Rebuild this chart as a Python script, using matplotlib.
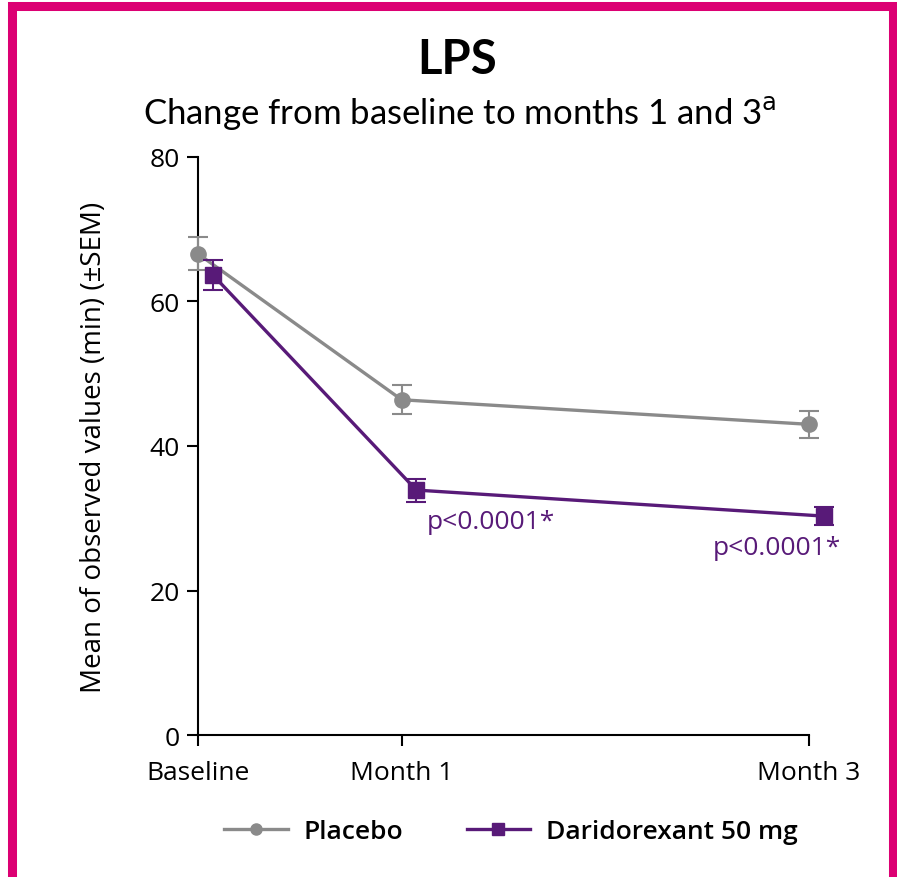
import numpy as np
import matplotlib
matplotlib.use("Agg")
import matplotlib.pyplot as plt
from matplotlib.patches import Rectangle

# LPS - mean observed values (min) with SEM
visits = ["Baseline", "Month 1", "Month 3"]
months = [0, 1, 3]

placebo = [66.6, 46.4, 43.0]
placebo_sem = [2.3, 2.0, 1.9]

dari = [63.7, 33.9, 30.3]
dari_sem = [2.1, 1.6, 1.3]

p_labels = ["p<0.0001*", "p<0.0001*"]

gray = "#8a8a8a"
purple = "#581a78"
magenta = "#dc0073"

fig = plt.figure(figsize=(8.97, 8.78), dpi=100)
ax = fig.add_axes([198/897, 1 - 736/878, 611/897, 578/878])

x_p = np.array(months, dtype=float)
x_d = x_p + 0.072

ax.errorbar(x_p, placebo, yerr=placebo_sem, color=gray, marker="o", markersize=11,
            linewidth=2.4, elinewidth=1.5, capsize=7, capthick=1.5, clip_on=False, zorder=3)
ax.errorbar(x_d, dari, yerr=dari_sem, color=purple, marker="s", markersize=12,
            linewidth=2.4, elinewidth=1.5, capsize=7, capthick=1.5, clip_on=False, zorder=4)

ax.text(x_d[1] + 0.05, dari[1] - 4.3, p_labels[0], color=purple, fontsize=19,
        family="Open Sans", va="center", ha="left")
ax.text(x_d[2] + 0.085, dari[2] - 4.3, p_labels[1], color=purple, fontsize=19,
        family="Open Sans", va="center", ha="right")

ax.set_xlim(0, 3)
ax.set_ylim(0, 80)
ax.set_xticks(months)
ax.set_xticklabels(visits)
ax.set_yticks([0, 20, 40, 60, 80])
for s in ["top", "right"]:
    ax.spines[s].set_visible(False)
for s in ["left", "bottom"]:
    ax.spines[s].set_linewidth(1.5)
ax.tick_params(length=8, width=1.5, labelsize=19, pad=5)
ax.tick_params(axis="x", pad=10)
for lab in ax.get_xticklabels() + ax.get_yticklabels():
    lab.set_family("Open Sans")
ax.set_ylabel("Mean of observed values (min) (±SEM)", fontsize=20, family="Open Sans", labelpad=30)

fig.text(457/897, 1 - 60/878, "LPS", ha="center", va="center", fontsize=34,
         fontweight="bold", family="Lato")
fig.text(460/897, 1 - 113/878, "Change from baseline to months 1 and 3$^{\\mathrm{a}}$",
         ha="center", va="center", fontsize=25, family="Lato")

h1, = ax.plot([], [], color=gray, marker="o", markersize=8, linewidth=2.4)
h2, = ax.plot([], [], color=purple, marker="s", markersize=8, linewidth=2.4)
leg = fig.legend([h1, h2], ["Placebo", "Daridorexant 50 mg"], loc="center",
                 bbox_to_anchor=(511/897, 1 - 833/878), ncol=2, frameon=False,
                 handlelength=2.4, handletextpad=0.6, columnspacing=2.4,
                 prop={"family": "Open Sans", "size": 19, "weight": "semibold"})

fig.patches.append(Rectangle((11.5/897, -0.01), (893 - 11.5)/897, 1 - 7/878 + 0.01,
                             transform=fig.transFigure, fill=False,
                             edgecolor=magenta, linewidth=6.5, zorder=10))

fig.savefig("out.png", dpi=100)
